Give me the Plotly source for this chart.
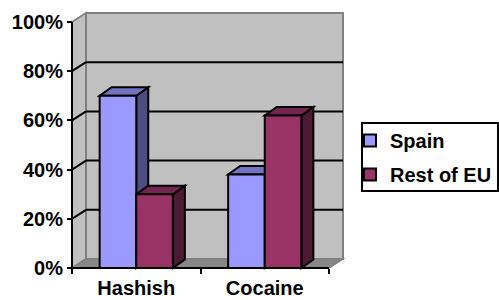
import plotly.graph_objects as go

# ---- data ----
categories = ["Hashish", "Cocaine"]
series_names = ["Spain", "Rest of EU"]
spain = [0.70, 0.38]
rest_of_eu = [0.30, 0.62]
y_ticks = [0, 0.2, 0.4, 0.6, 0.8, 1.0]
y_tick_labels = ["0%", "20%", "40%", "60%", "80%", "100%"]

# ---- styling / geometry ----
front_colors = ["#9999FF", "#993366"]
top_colors = ["#7373BF", "#732650"]
side_colors = ["#4D4D80", "#4D1A33"]
WALL = "#C0C0C0"
FLOOR = "#888888"
EDGE = "#808080"

W, H = 499, 300
PL, PR, PT, PB = 68, 348, 10, 272      # plot area in px
X0PX, Y0PX = 72, 268                   # front-left origin in px
XS = 128.5                             # px per category
YS = 246.0                             # px per 100%

xr = [-0.5 - (X0PX - PL) / XS, -0.5 + (PR - X0PX) / XS]
yr = [-(PB - Y0PX) / YS, (Y0PX - PT) / YS]

WDX, WDY = 14 / XS, 9 / YS   # wall depth
BDX, BDY = 12 / XS, 8.5 / YS   # bar depth
BW = 36.6 / XS               # bar width

xl, xe = -0.5, len(categories) - 0.5
ymax = y_ticks[-1]


def poly(pts):
    return "M " + " L ".join(f"{x:.5f},{y:.5f}" for x, y in pts) + " Z"


def bold(s):
    return f"<b>{s}</b>"


shapes = []
# back wall
shapes.append(dict(type="path", xref="x", yref="y", layer="below",
                   path=poly([(xl + WDX, WDY), (xe + WDX, WDY), (xe + WDX, ymax + WDY), (xl + WDX, ymax + WDY)]),
                   fillcolor=WALL, line=dict(color=EDGE, width=2)))
# left wall
shapes.append(dict(type="path", xref="x", yref="y", layer="below",
                   path=poly([(xl, 0), (xl, ymax), (xl + WDX, ymax + WDY), (xl + WDX, WDY)]),
                   fillcolor=WALL, line=dict(color=EDGE, width=2)))
# floor
shapes.append(dict(type="path", xref="x", yref="y", layer="below",
                   path=poly([(xl, 0), (xe, 0), (xe + WDX, WDY), (xl + WDX, WDY)]),
                   fillcolor=FLOOR, line=dict(color=EDGE, width=1.5)))
# gridlines
for t in y_ticks[1:-1]:
    shapes.append(dict(type="line", xref="x", yref="y", layer="below",
                       x0=xl + WDX, y0=t + WDY, x1=xe + WDX, y1=t + WDY,
                       line=dict(color="black", width=2)))
    shapes.append(dict(type="line", xref="x", yref="y", layer="below",
                       x0=xl, y0=t, x1=xl + WDX, y1=t + WDY,
                       line=dict(color="black", width=2)))
# bar side / top faces
series_vals = [spain, rest_of_eu]
for i in range(len(categories)):
    for j, vals in enumerate(series_vals):
        v = vals[i]
        x0 = i - BW + j * BW
        x1 = x0 + BW
        shapes.append(dict(type="path", xref="x", yref="y", layer="below",
                           path=poly([(x1, 0), (x1, v), (x1 + BDX, v + BDY), (x1 + BDX, BDY)]),
                           fillcolor=side_colors[j], line=dict(color="black", width=2)))
        shapes.append(dict(type="path", xref="x", yref="y", layer="below",
                           path=poly([(x0, v), (x1, v), (x1 + BDX, v + BDY), (x0 + BDX, v + BDY)]),
                           fillcolor=top_colors[j], line=dict(color="black", width=2)))
# front axis lines
shapes.append(dict(type="line", xref="x", yref="y", layer="above",
                   x0=xl, y0=0, x1=xl, y1=ymax, line=dict(color="black", width=2)))
shapes.append(dict(type="line", xref="x", yref="y", layer="above",
                   x0=xl, y0=0, x1=xe, y1=0, line=dict(color="black", width=2)))


def px_to_paper_x(px):
    return (px - PL) / (PR - PL)


def px_to_paper_y(py):
    return (PB - py) / (PB - PT)


# legend border
shapes.append(dict(type="rect", xref="paper", yref="paper",
                   x0=px_to_paper_x(362), x1=px_to_paper_x(498),
                   y0=px_to_paper_y(191), y1=px_to_paper_y(123),
                   line=dict(color="black", width=2), fillcolor="rgba(0,0,0,0)"))

FONT = dict(family="Liberation Sans, Arial, sans-serif", size=20, color="black", weight=700)

fig = go.Figure()
for j, (name, vals) in enumerate(zip(series_names, series_vals)):
    fig.add_trace(go.Bar(
        x=list(range(len(categories))), y=vals, name=bold(name),
        width=BW, offset=-BW + j * BW,
        marker=dict(color=front_colors[j], line=dict(color="black", width=2)),
        legendgroup=name, hoverinfo="skip",
    ))
# carrier for category labels
fig.add_trace(go.Scatter(x=list(range(len(categories))), y=[0] * len(categories),
                         xaxis="x2", mode="markers", marker=dict(size=1, opacity=0),
                         showlegend=False, hoverinfo="skip"))

axis_pos_x = (PB - Y0PX) / (PB - PT)
axis_pos_y = (X0PX - PL) / (PR - PL)

fig.update_layout(
    template="none",
    width=W, height=H,
    margin=dict(l=PL, r=W - PR, t=PT, b=H - PB, pad=0, autoexpand=False),
    paper_bgcolor="white", plot_bgcolor="white",
    barmode="overlay",
    font=FONT,
    shapes=shapes,
    xaxis=dict(range=xr, tickvals=[k - 0.5 for k in range(len(categories) + 1)],
               ticktext=[""] * (len(categories) + 1),
               ticks="outside", ticklen=5, tickwidth=2, tickcolor="black",
               showgrid=False, zeroline=False, showline=False, automargin=False,
               anchor="free", position=axis_pos_x, fixedrange=True),
    xaxis2=dict(range=xr, overlaying="x", tickvals=list(range(len(categories))),
                ticktext=[bold(c) for c in categories], ticks="", tickfont=FONT,
                ticklabelstandoff=6, automargin=False,
                showgrid=False, zeroline=False, showline=False,
                anchor="free", position=axis_pos_x, side="bottom", fixedrange=True),
    yaxis=dict(range=yr, tickvals=y_ticks, ticktext=[bold(t) for t in y_tick_labels],
               ticks="outside", ticklen=5, tickwidth=2, tickcolor="black",
               tickfont=FONT, ticklabelstandoff=0, automargin=False,
               showgrid=False, zeroline=False, showline=False,
               anchor="free", position=axis_pos_y, fixedrange=True),
    legend=dict(x=px_to_paper_x(350), y=px_to_paper_y(121), xanchor="left", yanchor="top",
                bgcolor="rgba(0,0,0,0)", borderwidth=0, font=FONT,
                traceorder="grouped", tracegroupgap=5, itemwidth=30),
    showlegend=True,
)

fig.write_html("out.html", config={"displayModeBar": False},
               post_script="document.body.style.margin='0px';document.body.style.overflow='hidden';")
